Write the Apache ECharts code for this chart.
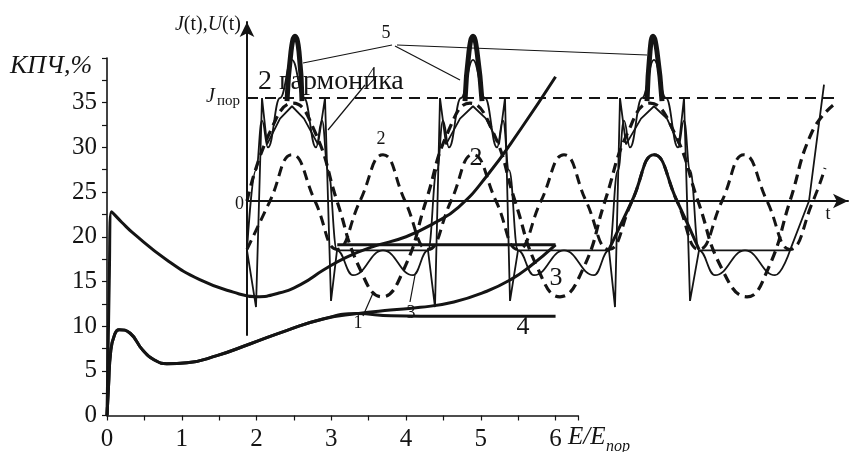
<!DOCTYPE html>
<html>
<head>
<meta charset="utf-8">
<title>КПЧ</title>
<script src="https://cdn.jsdelivr.net/npm/echarts@6/dist/echarts.min.js"></script>
<style>
  html, body { margin: 0; padding: 0; background: #fff; }
  #main { width: 855px; height: 452px; }
</style>
</head>
<body>
<div id="main"></div>
<script>
// ---- main chart: КПЧ,% vs E/E_пор ----
var xTicks = [0, 1, 2, 3, 4, 5, 6];
var yTicks = [0, 5, 10, 15, 20, 25, 30, 35];

// curve 2 (2 гармоника)
var curve2 = [[0,0],[0.03,15],[0.06,22.8],[0.2,21.6],[0.35,20.4],[0.8,17.4],[1.24,15.2],[1.69,13.8],
  [2.0,13.3],[2.3,13.7],[2.6,14.7],[2.9,16.3],[3.2,17.7],[3.56,18.9],[4.0,20.0],[4.37,21.5],
  [4.7,23.3],[5.08,26.8],[5.53,32.0],[6.0,37.9]];
// lower curve, common part of curves 3 and 4
var lowCommon = [[0,0],[0.02,3.2],[0.05,7.2],[0.1,9.0],[0.16,9.6],[0.31,9.2],[0.48,7.3],[0.66,6.1],
  [0.8,5.8],[1.07,5.9],[1.47,6.7],[1.91,8.0],[2.4,9.5],[2.89,10.8],[3.34,11.4]];
var tail3 = [[3.79,11.8],[4.19,12.1],[4.64,12.7],[5.08,13.9],[5.4,15.2],[5.66,16.7],[6.0,19.1]];
var tail4 = [[3.8,11.15],[4.2,11.1],[6.0,11.1]];
var level19 = [[3.08,19.1],[6.0,19.1]];

// ---- inset: J(t), U(t) (t in inset units, J_пор = 1) ----
var jFund = [[0,0],[23,0.67],[46,0.95],[68,0.67],[90,0],[113,-0.66],[135,-0.93],[157,-0.66],[179,0],
  [201,0.67],[223,0.95],[246,0.67],[268,0],[291,-0.66],[313,-0.93],[336,-0.66],[358,0],[381,0.67],
  [403,0.95],[427,0.67],[451,0],[475,-0.66],[500,-0.93],[521,-0.66],[543,0],[565,0.67],[586,0.93]];
var jHarm2 = [[0,-0.47],[23,0],[45,0.45],[68,0],[90,-0.47],[113,0],[136,0.45],[158,0],[181,-0.47],
  [204,0],[226,0.45],[249,0],[271,-0.47],[294,0],[317,0.45],[339,0],[362,-0.47],[385,0],[407,0.45],
  [430,0],[452,-0.47],[475,0],[497,0.45],[520,0],[543,-0.47],[566,0],[578,0.32]];
var jHarm2Solid = [[362,-0.47],[385,0],[407,0.45],[430,0],[452,-0.47]];
var jSum = [[0,-0.48],[9,0.3],[15,0.78],[21,0.52],[33,1.0],[45,1.37],[57,1.0],[69,0.52],[75,0.78],
  [81,0.3],[90,-0.48],[106,-0.72],[136,-0.48],[166,-0.72],
  [181,-0.48],[190,0.3],[196,0.78],[202,0.52],[214,1.0],[226,1.37],[238,1.0],[250,0.52],[256,0.78],
  [262,0.3],[271,-0.48],[287,-0.72],[317,-0.48],[347,-0.72],
  [362,-0.48],[371,0.3],[377,0.78],[383,0.52],[395,1.0],[407,1.37],[419,1.0],[431,0.52],[437,0.78],
  [443,0.3],[452,-0.48],[468,-0.72],[498,-0.48],[528,-0.72],[543,-0.48]];
var jSpike = [[0,-0.48],[9,-1.03],[15,1.0],[20,0.55],[33,0.8],[45,0.92],[57,0.8],[71,0.55],[78,1.0],
  [84,-0.97],[90,-0.48],[181,-0.48],[188,-1.03],[193,1.0],[199,0.55],[213,0.8],[226,0.92],[239,0.8],
  [252,0.55],[258,1.0],[263,-0.97],[271,-0.48],[362,-0.48],[368,-1.03],[373,1.0],[379,0.55],[394,0.8],
  [407,0.92],[420,0.8],[432,0.55],[437,1.0],[443,-0.97],[452,-0.48],[543,-0.48],[562,0.0],[577,1.13]];
var peak1 = [[40,0.97],[44,1.45],[48,1.6],[52,1.45],[55,0.97]];
var peak2 = [[218,0.97],[222,1.45],[226,1.6],[230,1.45],[235,0.97]];
var peak3 = [[400,0.97],[403,1.45],[406,1.6],[410,1.45],[415,0.97]];
var jThreshold = [[0,1],[590,1]];

var INK = '#141414';
var FONT = '"Liberation Serif", "Times New Roman", serif';

function line(data, grid, width, type, smooth, monotone) {
  return {
    type: 'line', xAxisIndex: grid, yAxisIndex: grid, data: data,
    symbol: 'none', silent: true, smooth: smooth, smoothMonotone: monotone || null,
    lineStyle: { color: INK, width: width, type: type }
  };
}

function txt(text, x, y, size, italic, align) {
  return {
    type: 'text', silent: true, z: 100,
    style: {
      text: text, x: x, y: y, fill: INK,
      font: (italic ? 'italic ' : '') + size + 'px ' + FONT,
      textAlign: align || 'center', textVerticalAlign: 'middle'
    }
  };
}
function leader(x1, y1, x2, y2) {
  return { type: 'line', silent: true, z: 100, shape: { x1: x1, y1: y1, x2: x2, y2: y2 },
    style: { stroke: INK, lineWidth: 1.2 } };
}

var myChart = echarts.init(document.getElementById('main'));
var option = {
  animation: false,
  backgroundColor: '#fff',
  grid: [
    { left: 107, right: 277, top: 58, bottom: 36.5 },
    { left: 247, right: 7, top: 22, bottom: 117 }
  ],
  xAxis: [
    { gridIndex: 0, type: 'value', min: 0, max: 6.3, interval: 1,
      axisLine: { lineStyle: { color: INK, width: 1.6 } },
      axisTick: { show: true, length: 5, lineStyle: { color: INK, width: 1.2 } },
      minorTick: { show: true, splitNumber: 2, length: 5, lineStyle: { color: INK, width: 1.2 } },
      splitLine: { show: false },
      axisLabel: { fontSize: 25, fontFamily: FONT, color: INK, margin: 11,
        formatter: function (v) { return xTicks.indexOf(v) >= 0 ? String(v) : ''; } } },
    { gridIndex: 1, type: 'value', min: 0, max: 601,
      axisLine: { symbol: ['none', 'arrow'], symbolSize: [11, 15], lineStyle: { color: INK, width: 2 } },
      axisTick: { show: false }, axisLabel: { show: false }, splitLine: { show: false } }
  ],
  yAxis: [
    { gridIndex: 0, type: 'value', min: 0, max: 40, interval: 5,
      axisLine: { show: true, lineStyle: { color: INK, width: 1.6 } },
      axisTick: { show: true, length: 5, lineStyle: { color: INK, width: 1.2 } },
      minorTick: { show: true, splitNumber: 2, length: 5, lineStyle: { color: INK, width: 1.2 } },
      splitLine: { show: false },
      axisLabel: { fontSize: 25, fontFamily: FONT, color: INK, margin: 10,
        formatter: function (v) { return yTicks.indexOf(v) >= 0 ? String(v) : ''; } } },
    { gridIndex: 1, type: 'value', min: -1.301, max: 1.738,
      axisLine: { show: true, symbol: ['none', 'arrow'], symbolSize: [11, 15], lineStyle: { color: INK, width: 2 } },
      axisTick: { show: false }, axisLabel: { show: false }, splitLine: { show: false } }
  ],
  series: [
    line(curve2, 0, 3, 'solid', 0.5),
    line(lowCommon.concat(tail3), 0, 3, 'solid', 0.5),
    line(lowCommon.concat(tail4), 0, 3, 'solid', 0.5),
    line(level19, 0, 3, 'solid', false),
    line(jThreshold, 1, 2.2, [11, 7], false),
    line(jFund, 1, 3.2, [10, 6], 0.5),
    line(jHarm2, 1, 3, [10, 6], 0.5),
    line(jHarm2Solid, 1, 3, 'solid', 0.5),
    line(jSum, 1, 1.8, 'solid', 0.45, 'x'),
    line(jSpike, 1, 1.8, 'solid', false),
    line(peak1, 1, 5, 'solid', 0.5),
    line(peak2, 1, 5, 'solid', 0.5),
    line(peak3, 1, 5, 'solid', 0.5)
  ],
  graphic: [
    txt('КПЧ,%', 10, 66, 26, true, 'left'),
    txt('E/E', 568, 437, 25, true, 'left'),
    txt('пор', 606, 447, 16, true, 'left'),
    {
      type: 'text', silent: true, z: 100,
      style: {
        text: '{i|J}{n|(t),}{i|U}{n|(t)}', x: 241, y: 25, textAlign: 'right', textVerticalAlign: 'middle',
        rich: {
          i: { fontStyle: 'italic', fontSize: 20, fontFamily: FONT, fill: INK },
          n: { fontSize: 20, fontFamily: FONT, fill: INK }
        }
      }
    },
    txt('J', 215, 97, 20, true, 'right'),
    txt('пор', 240, 101, 15, false, 'right'),
    txt('0', 244, 204, 18, false, 'right'),
    txt('t', 828, 214, 18, false, 'center'),
    txt('2 гармоника', 258, 82, 28, false, 'left'),
    txt('5', 386, 33, 18, false, 'center'),
    txt('4', 372, 75, 18, false, 'center'),
    txt('2', 381, 139, 18, false, 'center'),
    txt('1', 358, 323, 18, false, 'center'),
    txt('3', 411, 313, 18, false, 'center'),
    txt('2', 476, 158, 26, false, 'center'),
    txt('3', 556, 278, 26, false, 'center'),
    txt('4', 523, 327, 26, false, 'center'),
    leader(392, 45, 303, 63),
    leader(395, 46, 460, 80),
    leader(397, 45, 647, 55),
    leader(365, 85, 328, 130),
    leader(363, 316, 373, 293),
    leader(410, 302, 415, 275)
  ]
};
myChart.setOption(option);
</script>
</body>
</html>
